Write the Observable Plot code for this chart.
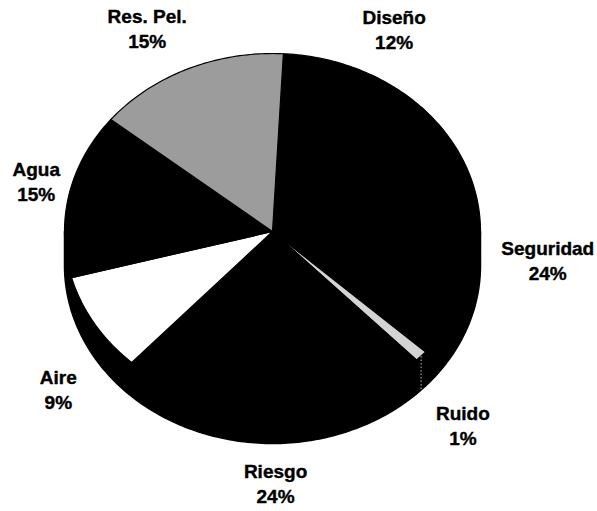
<!DOCTYPE html>
<html><head><meta charset="utf-8">
<script src="https://cdn.jsdelivr.net/npm/d3@7"></script>
<script src="https://cdn.jsdelivr.net/npm/@observablehq/plot@0.6"></script>
<style>body{margin:0;background:#fff}</style>
</head><body><div id="chart"></div>
<script>
const categories = ["Diseño","Seguridad","Ruido","Riesgo","Aire","Agua","Res. Pel."];
const percents = [12,24,1,24,9,15,15];
const percentLabels = ["12%","24%","1%","24%","9%","15%","15%"];
const sliceColors = ["#000000","#000000","#d4d4d4","#000000","#ffffff","#000000","#9c9c9c"];

const W = 597, H = 511, CX = 272, CY = 231, RX = 208, RY = 178, DEPTH = 34, START = 3;
const depthU = DEPTH / RY;
const total = d3.sum(percents);
let acc = 0;
const slices = categories.map((name, i) => {
  const a0 = START + acc / total * 360;
  acc += percents[i];
  const a1 = START + acc / total * 360;
  return {name, value: percents[i], label: percentLabels[i], a0, a1};
});
const rad = d => d * Math.PI / 180;
const pt = (deg, k = 1, dy = 0) => ({x: k * Math.sin(rad(deg)), y: k * Math.cos(rad(deg)) - dy});
function arcAngles(a0, a1) {
  const n = Math.max(2, Math.ceil(a1 - a0));
  return d3.range(n + 1).map(j => a0 + (a1 - a0) * j / n);
}
const faces = slices.flatMap(s => [{name: s.name, x: 0, y: 0}, ...arcAngles(s.a0, s.a1).map(a => ({name: s.name, ...pt(a)}))]);
const sides = slices.flatMap(s => {
  const lo = Math.max(s.a0, 90), hi = Math.min(s.a1, 270);
  if (hi <= lo) return [];
  const as = arcAngles(lo, hi);
  return [...as.map(a => ({name: s.name, ...pt(a)})), ...as.slice().reverse().map(a => ({name: s.name, ...pt(a, 1, depthU)}))];
});
const ruido = slices.find(s => s.name === "Ruido");
const ruidoMid = (ruido.a0 + ruido.a1) / 2;
const ruidoEdge = [{x1: pt(ruidoMid).x, y1: pt(ruidoMid).y, x2: pt(ruidoMid, 1, depthU).x, y2: pt(ruidoMid, 1, depthU).y}];

const FONT = "'Liberation Sans', Arial, sans-serif";
const FS = 19, INSET = 12;
const ctx = document.createElement("canvas").getContext("2d");
ctx.font = `bold ${FS}px ` + FONT;
const clamp = v => Math.max(-1, Math.min(1, v));
const labels = slices.map(s => {
  const mid = (s.a0 + s.a1) / 2;
  const w = Math.max(ctx.measureText(s.name).width, ctx.measureText(s.label).width);
  const h = 50, k = 1.1;
  const sn = Math.sin(rad(mid)), cs = Math.cos(rad(mid));
  let px = RX * k * sn + (w / 2) * clamp(2 * sn);
  px = Math.max(px, INSET + w / 2 - CX);
  const py = RY * k * cs + (h / 2) * clamp(2 * cs) - (cs < 0.1 ? 0.9 * DEPTH : 0);
  return {text: s.name + "\n" + s.label, x: px / RX, y: py / RY};
});

const chart = Plot.plot({
  width: W, height: H, margin: 0,
  style: {fontFamily: FONT, background: "#fff"},
  x: {domain: [-CX / RX, (W - CX) / RX], axis: null},
  y: {domain: [-(H - CY) / RY, CY / RY], axis: null},
  color: {domain: categories, range: sliceColors},
  marks: [
    Plot.line(sides, {x: "x", y: "y", z: "name", fill: "#000", stroke: "#000", curve: "linear-closed"}),
    Plot.line(faces, {x: "x", y: "y", z: "name", fill: "name", stroke: "#000", strokeWidth: 1.2, curve: "linear-closed"}),
    Plot.link(ruidoEdge, {x1: "x1", y1: "y1", x2: "x2", y2: "y2", stroke: "#bbb", strokeDasharray: "1.5,2"}),
    Plot.text(labels, {x: "x", y: "y", text: "text", fontSize: FS, fontWeight: "bold", lineHeight: 25 / FS, fill: "#000", stroke: "#000", strokeWidth: 0.4, fontFamily: FONT})
  ]
});
document.getElementById("chart").append(chart);
</script>
</body></html>
